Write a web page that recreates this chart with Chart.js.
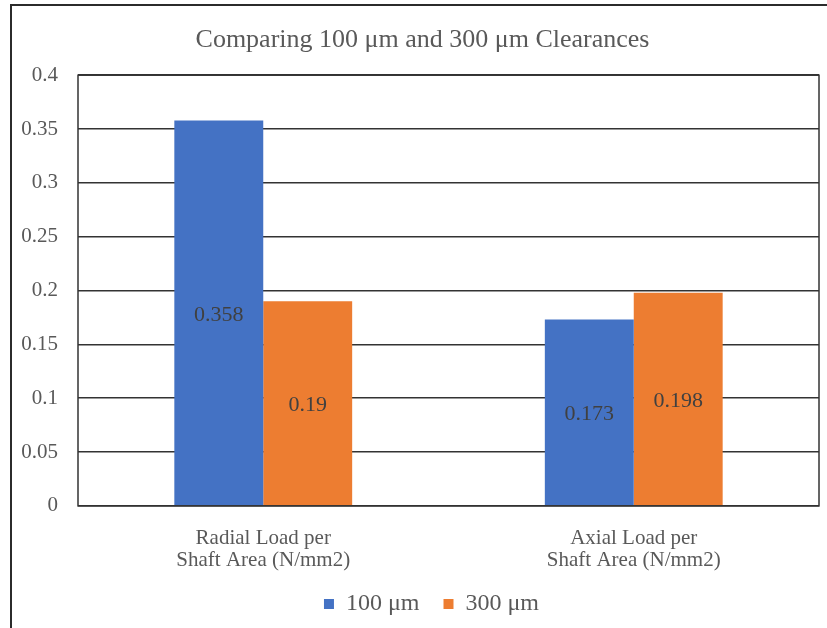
<!DOCTYPE html>
<html>
<head>
<meta charset="utf-8">
<script src="https://cdn.jsdelivr.net/npm/chart.js@4"></script>
<style>
  html, body { margin: 0; padding: 0; background: #fff; }
  #wrap { width: 827px; height: 628px; position: relative; }
</style>
</head>
<body>
<div id="wrap"><canvas id="myChart" width="827" height="628"></canvas></div>
<script>
const categories = [['Radial Load per', 'Shaft Area (N/mm2)'], ['Axial Load per', 'Shaft Area (N/mm2)']]
const series100 = [0.358, 0.173]
const series300 = [0.19, 0.198]
const seriesNames = ['100 μm', '300 μm']
const yTicks = [0, 0.05, 0.1, 0.15, 0.2, 0.25, 0.3, 0.35, 0.4]

const serif = "'Liberation Serif', 'Times New Roman', serif"

// frame around the whole chart and box around the plot area
const framePlugin = {
    id: 'frame',
    afterLayout(chart) {
        // title and legend sit a bit right of the canvas centre in the original
        chart.titleBlock.left += 13
        chart.titleBlock.right += 13
        chart.legend.left += 22
        chart.legend.right += 22
    },
    beforeDraw(chart) {
        const ctx = chart.ctx
        ctx.save()
        ctx.fillStyle = '#fff'
        ctx.fillRect(0, 0, chart.width, chart.height)
        ctx.strokeStyle = '#2b2b2b'
        ctx.lineWidth = 2
        ctx.beginPath()
        ctx.moveTo(11, chart.height)
        ctx.lineTo(11, 5)
        ctx.lineTo(chart.width, 5)
        ctx.stroke()
        ctx.restore()
    },
    afterDraw(chart) {
        const a = chart.chartArea
        const ctx = chart.ctx
        ctx.save()
        ctx.strokeStyle = '#333'
        ctx.lineWidth = 1.5
        ctx.strokeRect(a.left, a.top, a.right - a.left, a.bottom - a.top)
        ctx.restore()
    }
}

// value labels in the middle of each bar
const barLabels = {
    id: 'barLabels',
    afterDatasetsDraw(chart) {
        const ctx = chart.ctx
        ctx.save()
        ctx.font = '22px ' + serif
        ctx.fillStyle = '#404040'
        ctx.textAlign = 'center'
        ctx.textBaseline = 'middle'
        chart.data.datasets.forEach((ds, i) => {
            chart.getDatasetMeta(i).data.forEach((bar, j) => {
                ctx.fillText(String(ds.data[j]), bar.x, (bar.y + bar.base) / 2 + 2)
            })
        })
        ctx.restore()
    }
}

const ctx = document.getElementById('myChart').getContext('2d')

const myChart = new Chart(ctx, {
    type: 'bar',
    data: {
        labels: categories,
        datasets: [{
            label: seriesNames[0],
            data: series100,
            backgroundColor: '#4472C4',
            categoryPercentage: 0.48,
            barPercentage: 1.0
        }, {
            label: seriesNames[1],
            data: series300,
            backgroundColor: '#ED7D31',
            categoryPercentage: 0.48,
            barPercentage: 1.0
        }]
    },
    options: {
        responsive: false,
        animation: false,
        layout: { padding: { left: 0, right: 8, top: 0, bottom: 2 } },
        plugins: {
            title: {
                display: true,
                text: 'Comparing 100 μm and 300 μm Clearances',
                color: '#595959',
                font: { family: serif, size: 26, weight: 'normal' },
                padding: { top: 25, bottom: 19 }
            },
            legend: {
                position: 'bottom',
                labels: {
                    color: '#595959',
                    font: { family: serif, size: 24 },
                    boxWidth: 10,
                    boxHeight: 10,
                    padding: 6,
                    // extra room between the two entries
                    generateLabels(chart) {
                        const items = Chart.defaults.plugins.legend.labels.generateLabels(chart)
                        items.forEach((it, i) => {
                            if (i < items.length - 1) it.text = it.text + '   '
                        })
                        return items
                    }
                }
            },
            tooltip: { enabled: false }
        },
        scales: {
            x: {
                grid: { display: false },
                border: { display: false },
                ticks: {
                    color: '#595959',
                    font: { family: serif, size: 21, lineHeight: 1.05 },
                    padding: 14,
                    maxRotation: 0
                }
            },
            y: {
                min: 0,
                max: 0.4,
                afterBuildTicks(scale) {
                    scale.ticks = yTicks.map(v => ({ value: v }))
                },
                afterFit(scale) {
                    scale.width = 78
                },
                grid: { color: '#333', lineWidth: 1.5, drawTicks: false },
                border: { display: false },
                ticks: {
                    color: '#595959',
                    font: { family: serif, size: 21 },
                    padding: 20,
                    callback: v => String(+v.toFixed(2))
                }
            }
        }
    },
    plugins: [framePlugin, barLabels]
})
</script>
</body>
</html>
